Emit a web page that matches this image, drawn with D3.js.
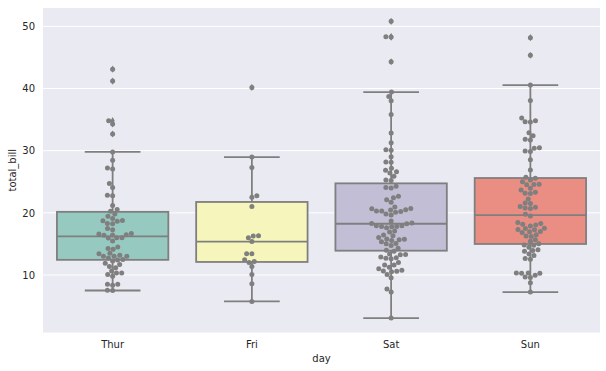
<meta charset="utf-8">
<style>body{margin:0;background:#fff}</style>
<svg width="606" height="371"></svg>
<script src="https://d3js.org/d3.v7.min.js"></script>
<script>
// categories
var days = ["Thur", "Fri", "Sat", "Sun"];

// total_bill per day (swarm points)
var thur = [27.20, 22.76, 17.29, 19.44, 16.66, 10.07, 32.68, 15.98, 34.83, 13.03, 18.28, 24.71, 21.16,
  10.65, 12.43, 24.08, 11.69, 13.42, 14.26, 15.95, 12.48, 29.80, 8.52, 14.52, 11.38, 22.82, 19.08,
  20.27, 11.17, 12.26, 18.26, 8.51, 10.33, 14.15, 16.00, 13.16, 17.47, 34.30, 41.19, 27.05, 16.43,
  8.35, 18.64, 11.87, 9.78, 7.51, 19.81, 28.44, 15.48, 16.58, 7.56, 10.34, 43.11, 13.00, 13.51,
  18.71, 12.74, 13.00, 16.40, 20.53, 16.47, 18.78];
var fri = [28.97, 22.49, 5.75, 16.32, 22.75, 40.17, 27.28, 12.03, 21.01, 12.46, 11.35, 15.38,
  12.16, 13.42, 8.58, 15.98, 13.42, 16.27, 10.09];
var sat = [20.65, 17.92, 20.29, 15.77, 39.42, 19.82, 17.81, 13.37, 12.69, 21.70, 19.65, 9.55, 18.35,
  15.06, 20.69, 17.78, 24.06, 16.31, 16.93, 18.69, 31.27, 16.04, 38.01, 26.41, 11.24, 48.27, 20.29,
  13.81, 11.02, 18.29, 17.59, 20.08, 16.45, 3.07, 20.23, 15.01, 12.02, 17.07, 26.86, 25.28, 14.73,
  10.51, 17.92, 44.30, 22.42, 20.92, 15.36, 20.49, 25.21, 18.24, 14.31, 14.00, 7.25, 10.59, 10.63,
  50.81, 15.81, 26.59, 38.73, 24.27, 12.76, 30.06, 25.89, 48.33, 13.27, 28.17, 12.90, 28.15, 11.59,
  7.74, 30.14, 20.45, 13.28, 22.12, 24.01, 15.69, 11.61, 10.77, 15.53, 10.07, 12.60, 32.83, 35.83,
  29.03, 27.18, 22.67, 17.82];
var sun = [16.99, 10.34, 21.01, 23.68, 24.59, 25.29, 8.77, 26.88, 15.04, 14.78, 10.27, 35.26, 15.42,
  18.43, 14.83, 21.58, 10.33, 16.29, 16.97, 17.46, 13.94, 9.68, 30.40, 18.29, 22.23, 32.40, 28.55,
  18.04, 12.54, 10.29, 34.81, 9.94, 25.56, 19.49, 38.07, 23.95, 25.71, 17.31, 29.93, 14.07, 13.13,
  17.26, 24.55, 19.77, 29.85, 48.17, 25.00, 13.39, 16.49, 21.50, 12.66, 16.21, 13.81, 17.51, 24.52,
  20.76, 31.71, 7.25, 31.85, 16.82, 32.90, 17.89, 14.48, 9.60, 34.63, 34.65, 23.33, 45.35, 23.17,
  40.55, 20.69, 20.90, 30.46, 18.15, 23.10, 15.69];
var values = [thur, fri, sat, sun];

// box statistics per day
var q1 = [12.44, 12.10, 13.91, 14.99];
var median = [16.20, 15.38, 18.24, 19.63];
var q3 = [20.16, 21.75, 24.74, 25.60];
var whiskerLo = [7.51, 5.75, 3.07, 7.25];
var whiskerHi = [29.80, 28.97, 39.42, 40.55];

var yTicks = [10, 20, 30, 40, 50];

var svg = d3.select("svg"),
    margin = {top: 8, right: 6, bottom: 38.5, left: 43},
    width = +svg.attr("width"),
    height = +svg.attr("height");

var x = d3.scaleBand()
    .domain(days)
    .range([margin.left, width - margin.right]);

var y = d3.scaleLinear()
    .domain([0.75, 52.95])
    .range([height - margin.bottom, margin.top]);

// desaturated Set3 like seaborn
var color = d3.scaleOrdinal()
    .domain(days)
    .range(d3.schemeSet3.slice(0, 4).map(function(c) {
      var h = d3.hsl(c); h.s *= 0.75; return h.formatHex();
    }));

var gray = "#7f7f7f";

svg.append("rect")
    .attr("x", margin.left)
    .attr("y", margin.top)
    .attr("width", width - margin.left - margin.right)
    .attr("height", height - margin.top - margin.bottom)
    .attr("fill", "#eaeaf2");

// grid
svg.append("g")
  .selectAll("line")
  .data(yTicks)
  .enter().append("line")
    .attr("x1", margin.left)
    .attr("x2", width - margin.right)
    .attr("y1", function(d) { return y(d); })
    .attr("y2", function(d) { return y(d); })
    .attr("stroke", "#fff")
    .attr("stroke-width", 1);

// axes
var yAxis = svg.append("g")
    .attr("transform", "translate(" + margin.left + ",0)")
    .call(d3.axisLeft(y).tickValues(yTicks).tickSize(0).tickPadding(8));
var xAxis = svg.append("g")
    .attr("transform", "translate(0," + (height - margin.bottom) + ")")
    .call(d3.axisBottom(x).tickSize(0).tickPadding(8));
[xAxis, yAxis].forEach(function(a) {
  a.select(".domain").remove();
  a.selectAll("text")
    .attr("fill", "#262626")
    .attr("font-family", "DejaVu Sans")
    .attr("font-size", "10px");
});

svg.append("text")
    .attr("x", margin.left + (width - margin.left - margin.right) / 2)
    .attr("y", 362)
    .attr("text-anchor", "middle")
    .attr("font-family", "DejaVu Sans")
    .attr("font-size", "10px")
    .attr("fill", "#262626")
    .text("day");

svg.append("text")
    .attr("transform", "translate(16," + (margin.top + (height - margin.top - margin.bottom) / 2) + ") rotate(-90)")
    .attr("text-anchor", "middle")
    .attr("font-family", "DejaVu Sans")
    .attr("font-size", "10px")
    .attr("fill", "#262626")
    .text("total_bill");

// boxes
var bw = x.bandwidth() * 0.8;
var boxes = svg.append("g")
  .selectAll("g")
  .data(days)
  .enter().append("g");

boxes.append("line")
    .attr("x1", function(d) { return x(d) + x.bandwidth() / 2; })
    .attr("x2", function(d) { return x(d) + x.bandwidth() / 2; })
    .attr("y1", function(d, i) { return y(whiskerHi[i]); })
    .attr("y2", function(d, i) { return y(q3[i]); });
boxes.append("line")
    .attr("x1", function(d) { return x(d) + x.bandwidth() / 2; })
    .attr("x2", function(d) { return x(d) + x.bandwidth() / 2; })
    .attr("y1", function(d, i) { return y(q1[i]); })
    .attr("y2", function(d, i) { return y(whiskerLo[i]); });
[whiskerHi, whiskerLo].forEach(function(w) {
  boxes.append("line")
      .attr("x1", function(d) { return x(d) + x.bandwidth() / 2 - bw / 4; })
      .attr("x2", function(d) { return x(d) + x.bandwidth() / 2 + bw / 4; })
      .attr("y1", function(d, i) { return y(w[i]); })
      .attr("y2", function(d, i) { return y(w[i]); });
});
boxes.append("rect")
    .attr("x", function(d) { return x(d) + (x.bandwidth() - bw) / 2; })
    .attr("width", bw)
    .attr("y", function(d, i) { return y(q3[i]); })
    .attr("height", function(d, i) { return y(q1[i]) - y(q3[i]); })
    .attr("fill", function(d) { return color(d); });
boxes.append("line")
    .attr("x1", function(d) { return x(d) + (x.bandwidth() - bw) / 2; })
    .attr("x2", function(d) { return x(d) + (x.bandwidth() + bw) / 2; })
    .attr("y1", function(d, i) { return y(median[i]); })
    .attr("y2", function(d, i) { return y(median[i]); });
boxes.selectAll("line, rect")
    .attr("stroke", gray)
    .attr("stroke-width", 1.8);

// fliers (thin diamonds)
boxes.each(function(d, i) {
  var out = values[i].filter(function(v) { return v > whiskerHi[i] || v < whiskerLo[i]; });
  d3.select(this).selectAll("path")
    .data(out)
    .enter().append("path")
      .attr("d", "M0,-3.6L2.1,0L0,3.6L-2.1,0Z")
      .attr("transform", function(v) { return "translate(" + (x(d) + x.bandwidth() / 2) + "," + y(v) + ")"; })
      .attr("fill", gray);
});

// swarm
var r = 2.5;
function swarm(vals, cx) {
  var pts = vals.map(function(v) { return {v: v, y: y(v)}; })
    .sort(function(a, b) { return a.v - b.v; });
  var placed = [];
  pts.forEach(function(p) {
    var nb = [];
    for (var j = placed.length - 1; j >= 0; j--) {
      if (Math.abs(p.y - placed[j].y) < 2 * r) nb.unshift(placed[j]);
      else break;
    }
    var cand = [cx], leftFirst = true;
    nb.forEach(function(q) {
      var dy = p.y - q.y;
      var dx = Math.sqrt(Math.max(4 * r * r - dy * dy, 0)) * 1.05;
      if (leftFirst) cand.push(q.x - dx, q.x + dx);
      else cand.push(q.x + dx, q.x - dx);
      leftFirst = !leftFirst;
    });
    var order = cand.map(function(c, i) { return {c: c, i: i}; })
      .sort(function(a, b) { return Math.abs(a.c - cx) - Math.abs(b.c - cx) || a.i - b.i; });
    for (var k = 0; k < order.length; k++) {
      var cxk = order[k].c;
      var ok = nb.every(function(q) {
        var ddx = q.x - cxk, ddy = q.y - p.y;
        return ddx * ddx + ddy * ddy >= 4 * r * r - 1e-6;
      });
      if (ok) { p.x = cxk; break; }
    }
    placed.push(p);
  });
  return placed;
}

days.forEach(function(d, i) {
  svg.append("g")
    .selectAll("circle")
    .data(swarm(values[i], x(d) + x.bandwidth() / 2))
    .enter().append("circle")
      .attr("cx", function(p) { return p.x; })
      .attr("cy", function(p) { return p.y; })
      .attr("r", r)
      .attr("fill", gray);
});
</script>
